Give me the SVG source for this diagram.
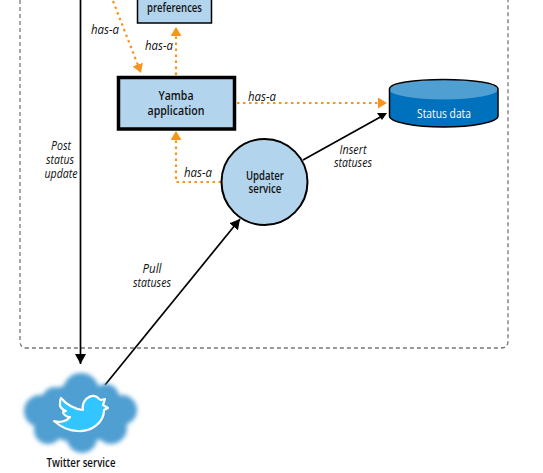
<svg xmlns="http://www.w3.org/2000/svg" width="543" height="473" viewBox="0 0 543 473">
<style>
text{font-family:"Open Sans","Noto Sans",sans-serif;font-size:13px;fill:#111;text-anchor:middle}
.i{font-style:italic}
.b{font-weight:600}
.node{fill:#b2d4ec;stroke:#000}
.k{fill:none;stroke:#000;stroke-width:1.700}
.o{fill:none;stroke:#f7941e;stroke-width:2.200;stroke-dasharray:2.500 3.500}
</style>
<defs>
<marker id="ah" markerUnits="userSpaceOnUse" markerWidth="12" markerHeight="12" refX="10" refY="5.500" orient="auto"><path d="M0 0L10 5.500L0 11z" fill="#000"/></marker>
<marker id="oh" markerUnits="userSpaceOnUse" markerWidth="12" markerHeight="12" refX="9" refY="5.500" orient="auto"><path d="M0 0L9 5.500L0 11z" fill="#f7941e"/></marker>
<filter id="soft" x="-10%" y="-10%" width="120%" height="120%"><feGaussianBlur stdDeviation="2"/></filter>
</defs>
<path id="frame" d="M20 0V341Q20 348 27 348H501Q508 348 508 341V0" fill="none" stroke="#777" stroke-width="1.300" stroke-dasharray="4 3"/>
<g id="connectors">
<path class="k" d="M80.500 0V364" marker-end="url(#ah)"/>
<path class="k" d="M105 385L240 219" marker-end="url(#ah)"/>
<path class="k" d="M303 160L384 115"/>
<path d="M377 113H387L382 120z" fill="#000"/>
<path class="o" d="M113 1L141 73" marker-end="url(#oh)"/>
<path class="o" d="M176 75V27" marker-end="url(#oh)"/>
<path class="o" d="M237 103H387" marker-end="url(#oh)"/>
<path class="o" d="M221 182H176V131" marker-end="url(#oh)"/>
</g>
<g id="preferences"><rect class="node" x="137.500" y="-10" width="74" height="33" stroke-width="1.500"/><text class="b" x="174.500" y="12" textLength="55" lengthAdjust="spacingAndGlyphs">preferences</text></g>
<g id="yamba"><rect class="node" x="118.500" y="77.500" width="116" height="51.500" stroke-width="3.500"/><text class="b" x="176" y="100" textLength="35" lengthAdjust="spacingAndGlyphs">Yamba</text><text class="b" x="176" y="115" textLength="57" lengthAdjust="spacingAndGlyphs">application</text></g>
<g id="updater"><circle class="node" cx="264.500" cy="182" r="43" stroke-width="2"/><text class="b" x="265" y="180" textLength="38" lengthAdjust="spacingAndGlyphs">Updater</text><text class="b" x="265" y="193" textLength="33" lengthAdjust="spacingAndGlyphs">service</text></g>
<g id="status-data">
<path d="M389.500 89V116C389.500 122 414 127 443.500 127S498 122 498 116V89z" fill="#0071bc"/>
<ellipse cx="443.500" cy="89.500" rx="54.500" ry="10" fill="#4f9fd2"/>
<path d="M389.500 116V89C389.500 83 414 79.500 443.500 79.500S498 83 498 89V116C498 122 473 127 443.500 127S389.500 122 389.500 116z" fill="none" stroke="#000" stroke-width="1.500"/>
<text x="444" y="118" style="fill:#fff" textLength="54" lengthAdjust="spacingAndGlyphs">Status data</text>
</g>
<g id="twitter">
<g fill="#4f9fd2" filter="url(#soft)">
<ellipse cx="80" cy="413" rx="40" ry="30"/>
<circle cx="81" cy="391" r="18"/><circle cx="55" cy="400" r="13"/><circle cx="106" cy="397" r="13"/>
<circle cx="40" cy="411" r="16"/><circle cx="122" cy="410" r="15"/><circle cx="48" cy="430" r="14"/>
<circle cx="111" cy="428" r="16"/><circle cx="82" cy="438" r="15"/>
</g>
<path d="M61 398C67 405 74 409 83 410C81 401 90 393 97 397C99 399 100 400 101 400L105 399L103 405L108 408L104 410C104 422 92 432 78 431C70 431 62 428 54 421C60 423 67 421 70 417C66 417 63 414 63 412L66 411C62 410 59 406 60 403C60 402 60 400 61 398z" fill="#33c5ff" stroke="#fff" stroke-width="2.200" stroke-linejoin="round"/>
<text class="b" x="81" y="467" textLength="69" lengthAdjust="spacingAndGlyphs">Twitter service</text>
</g>
<g id="labels">
<text class="i" x="105" y="34" textLength="28" lengthAdjust="spacingAndGlyphs">has-a</text>
<text class="i" x="159" y="50" textLength="28" lengthAdjust="spacingAndGlyphs">has-a</text>
<text class="i" x="262" y="101" textLength="28" lengthAdjust="spacingAndGlyphs">has-a</text>
<text class="i" x="198" y="177" textLength="28" lengthAdjust="spacingAndGlyphs">has-a</text>
<text class="i" x="61" y="150" textLength="20" lengthAdjust="spacingAndGlyphs">Post</text>
<text class="i" x="60" y="164" textLength="28" lengthAdjust="spacingAndGlyphs">status</text>
<text class="i" x="61" y="178" textLength="33" lengthAdjust="spacingAndGlyphs">update</text>
<text class="i" x="353" y="154" textLength="27" lengthAdjust="spacingAndGlyphs">Insert</text>
<text class="i" x="353" y="167" textLength="38" lengthAdjust="spacingAndGlyphs">statuses</text>
<text class="i" x="152" y="273" textLength="19" lengthAdjust="spacingAndGlyphs">Pull</text>
<text class="i" x="152" y="287" textLength="38" lengthAdjust="spacingAndGlyphs">statuses</text>
</g>
</svg>
